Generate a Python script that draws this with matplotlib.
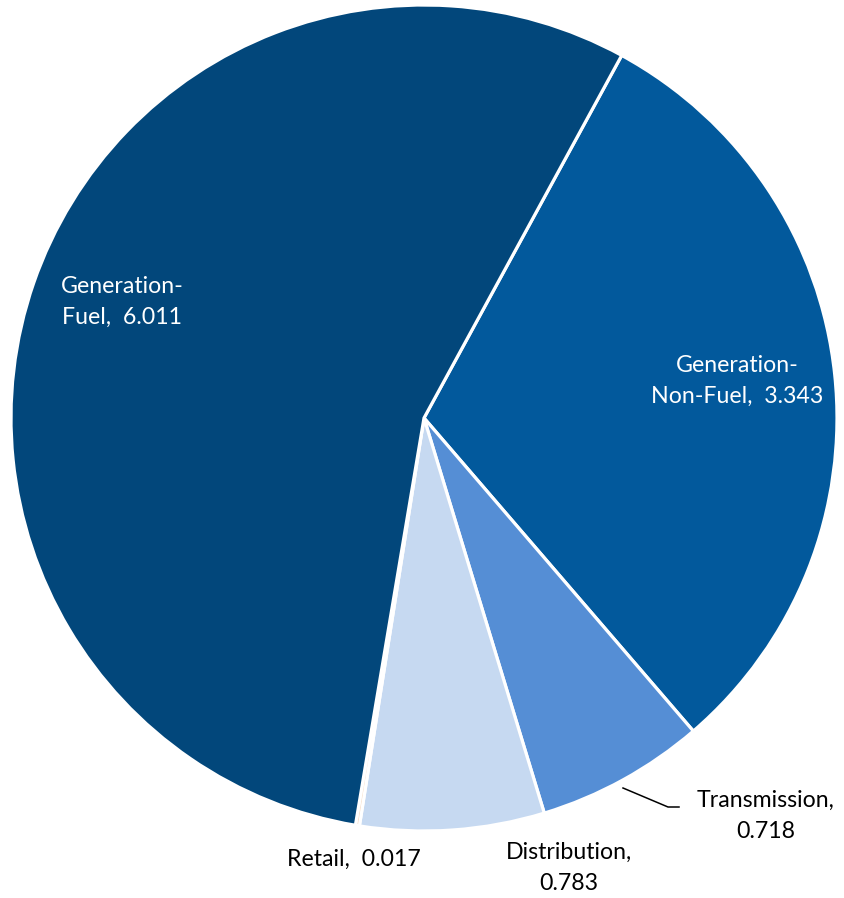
import matplotlib
matplotlib.use("Agg")
import matplotlib.pyplot as plt

categories = ["Generation-Non-Fuel", "Transmission", "Distribution", "Retail", "Generation-Fuel"]
values = [3.343, 0.718, 0.783, 0.017, 6.011]
colors = ["#02599C", "#558ED5", "#C6D9F1", "#F6DCC4", "#02477B"]

plt.rcParams['font.family'] = ['Lato', 'DejaVu Sans']

W, H = 845, 898
fig = plt.figure(figsize=(W / 100, H / 100), dpi=100)
ax = fig.add_axes([0, 0, 1, 1])
ax.set_xlim(0, W)
ax.set_ylim(0, H)
ax.set_aspect('equal')
ax.axis('off')

cx, cy, r = 424, H - 418, 413
ax.pie(values, colors=colors, startangle=61.4, counterclock=False,
       center=(cx, cy), radius=r, frame=True,
       wedgeprops=dict(edgecolor='white', linewidth=2.3))
ax.set_xlim(0, W)
ax.set_ylim(0, H)
ax.axis('off')

fs = 16.7
def lab(i, x, y, color, text):
    ax.text(x, H - y, text, ha='center', va='center', fontsize=fs, color=color,
            linespacing=1.55)

lab(4, 122, 302, 'white', "Generation-\nFuel,  %.3f" % values[4])
lab(0, 737, 381, 'white', "Generation-\nNon-Fuel,  %.3f" % values[0])
lab(1, 766, 816, 'black', "Transmission,\n%.3f" % values[1])
lab(2, 569, 868, 'black', "Distribution,\n%.3f" % values[2])
lab(3, 354, 859, 'black', "Retail,  %.3f" % values[3])

ax.plot([623, 668, 679], [H - 788, H - 807, H - 807], color='black', lw=1.1)

fig.savefig("out.png", dpi=100)
